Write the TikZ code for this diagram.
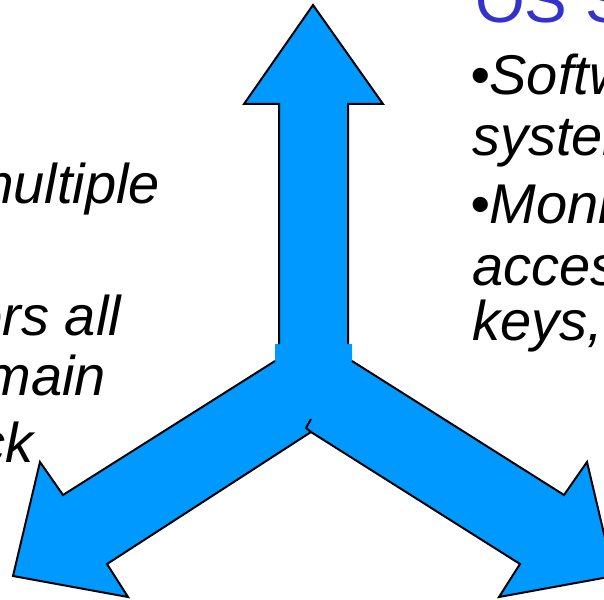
\documentclass[tikz,border=0pt]{standalone}
\usepackage{fontspec}
\setmainfont{Liberation Sans}
\definecolor{arrowblue}{RGB}{0,153,255}
\definecolor{titleblue}{RGB}{51,51,204}
\begin{document}
\begin{tikzpicture}[x=1pt, y=-1pt, line join=miter,
	txt/.style={inner sep=0pt, outer sep=0pt, font=\fontsize{56}{60}\selectfont\itshape},
	ttl/.style={inner sep=0pt, outer sep=0pt, text=titleblue, font=\fontsize{64}{70}\selectfont},
	rim/.style={draw=black, line width=2pt}]
	\useasboundingbox (0, 0) rectangle (604, 599);

	% three way arrow
	\fill[arrowblue] (313, 5) -- (383, 104) -- (348, 104) -- (348, 344) -- (352, 344) -- (352, 361)
		-- (564, 495) -- (587, 462) -- (614, 576) -- (499, 597) -- (520, 564) -- (311, 432)
		-- (107, 564) -- (128, 597) -- (13, 576) -- (40, 462) -- (63, 495) -- (275, 361)
		-- (275, 344) -- (279, 344) -- (279, 104) -- (244, 104) -- cycle;
	\draw[rim] (279, 344) -- (279, 104) -- (244, 104) -- (313, 5) -- (383, 104) -- (348, 104) -- (348, 344);
	\draw[rim] (275, 361) -- (63, 495) -- (40, 462) -- (13, 576) -- (128, 597) -- (107, 564) -- (311, 432)
		-- (520, 564) -- (499, 597) -- (614, 576) -- (587, 462) -- (564, 495) -- (352, 361);
	\draw[rim] (311, 432) -- (306, 428) -- (311, 419);

	% right column
	\node[ttl, anchor=base west] (title) at (475, 23) {OS S};
	\node[txt, anchor=base west] (soft) at (470, 95) {•Softw};
	\node[txt, anchor=base west] (sys) at (472, 155) {system};
	\node[txt, anchor=base west] (moni) at (470, 223) {•Moni};
	\node[txt, anchor=base west] (acc) at (472, 285) {acces};
	\node[txt, anchor=base west] (keys) at (472, 340) {keys,};

	% left column
	\node[txt, anchor=base east] (mult) at (160, 203) {multiple};
	\node[txt, anchor=base east] (all) at (121, 335) {ors all};
	\node[txt, anchor=base east] (main) at (106, 395) {main};
	\node[txt, anchor=base east] (ck) at (34, 462) {ck};
\end{tikzpicture}
\end{document}
